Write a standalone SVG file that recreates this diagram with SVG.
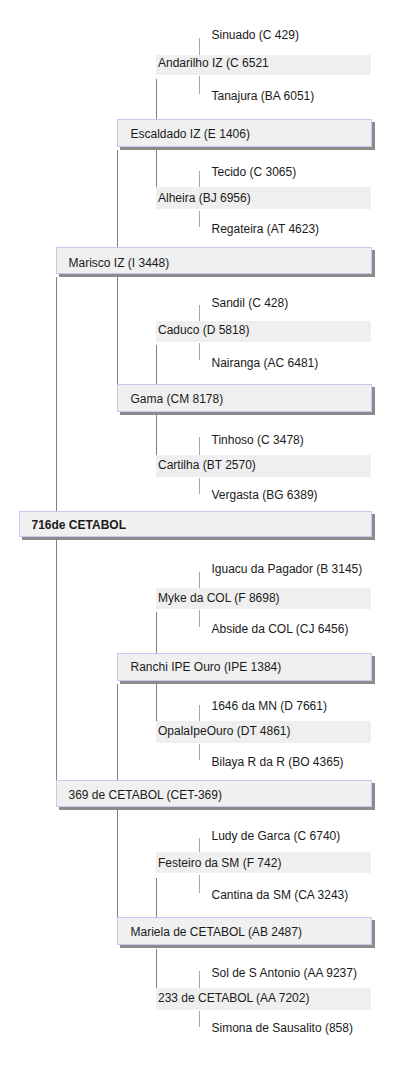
<svg xmlns="http://www.w3.org/2000/svg" width="400" height="1069" viewBox="0 0 400 1069">
<style>
text{font-family:"Liberation Sans",Arial,sans-serif;font-size:12px;fill:#1a1a1a}
.b{fill:#f0f0f0;stroke:#c8c8f2;stroke-width:1}
.s{fill:#8c8c8c}
.l3{fill:#efefef}
.c{stroke:#7f7f7f;stroke-width:1;fill:none}
.c4{stroke:#a6a6a6;stroke-width:1;fill:none}
.root{font-weight:bold}
</style>
<rect width="400" height="1069" fill="#ffffff"/>
<g id="connectors">
<path class="c" d="M156.5 79V119M156.5 150V187M156.5 345V384M156.5 415V455M156.5 612V653M156.5 684V721M156.5 878V917M156.5 949V988"/>
<path class="c" d="M117.5 150V247M117.5 277V384M117.5 684V780M117.5 809V917"/>
<path class="c" d="M56.5 277V511M56.5 540V780"/>
<path class="c4" d="M199.5 38V55M199.5 76V94M199.5 171V187M199.5 211V227M199.5 305V321M199.5 343V360M199.5 437V455M199.5 478V494M199.5 572V588M199.5 610V627M199.5 705V721M199.5 744V760M199.5 838V852M199.5 875V893M199.5 971V988M199.5 1011V1027"/>
</g>
<g id="n-root"><rect class="s" x="22" y="514" width="353" height="26"/><rect class="b" x="19.5" y="511.5" width="352" height="25"/><text class="root" x="31.5" y="528.5">716de CETABOL</text></g>
<g id="n-marisco"><rect class="s" x="59" y="250" width="316" height="27"/><rect class="b" x="56.5" y="247.5" width="315" height="26"/><text x="68.5" y="266.5">Marisco IZ (I 3448)</text></g>
<g id="n-369"><rect class="s" x="59" y="783" width="316" height="27"/><rect class="b" x="56.5" y="780.5" width="315" height="26"/><text x="68.5" y="799">369 de CETABOL (CET-369)</text></g>
<g id="n-escaldado"><rect class="s" x="120" y="122" width="255" height="28"/><rect class="b" x="117.5" y="119.5" width="254" height="27"/><text x="130.5" y="138">Escaldado IZ (E 1406)</text></g>
<g id="n-gama"><rect class="s" x="120" y="387" width="255" height="28"/><rect class="b" x="117.5" y="384.5" width="254" height="27"/><text x="130.5" y="403">Gama (CM 8178)</text></g>
<g id="n-ranchi"><rect class="s" x="120" y="656" width="255" height="28"/><rect class="b" x="117.5" y="653.5" width="254" height="27"/><text x="130.5" y="671">Ranchi IPE Ouro (IPE 1384)</text></g>
<g id="n-mariela"><rect class="s" x="120" y="920" width="255" height="28"/><rect class="b" x="117.5" y="917.5" width="254" height="27"/><text x="130.5" y="936">Mariela de CETABOL (AB 2487)</text></g>
<g id="n-andarilho"><rect class="l3" x="156" y="55" width="215" height="20"/><text x="158" y="67">Andarilho IZ (C 6521</text></g>
<g id="n-alheira"><rect class="l3" x="156" y="187" width="215" height="22"/><text x="158" y="201.5">Alheira (BJ 6956)</text></g>
<g id="n-caduco"><rect class="l3" x="156" y="321" width="215" height="21"/><text x="158" y="334">Caduco (D 5818)</text></g>
<g id="n-cartilha"><rect class="l3" x="156" y="455" width="215" height="22"/><text x="158" y="468.5">Cartilha (BT 2570)</text></g>
<g id="n-myke"><rect class="l3" x="156" y="588" width="215" height="21"/><text x="158" y="601.5">Myke da COL (F 8698)</text></g>
<g id="n-opala"><rect class="l3" x="156" y="721" width="215" height="22"/><text x="158" y="735">OpalaIpeOuro (DT 4861)</text></g>
<g id="n-festeiro"><rect class="l3" x="156" y="852" width="215" height="21"/><text x="158" y="867">Festeiro da SM (F 742)</text></g>
<g id="n-233"><rect class="l3" x="156" y="988" width="215" height="22"/><text x="158" y="1001.5">233 de CETABOL (AA 7202)</text></g>
<g id="n-sinuado"><text x="211.5" y="39">Sinuado (C 429)</text></g>
<g id="n-tanajura"><text x="211.5" y="100">Tanajura (BA 6051)</text></g>
<g id="n-tecido"><text x="211.5" y="176">Tecido (C 3065)</text></g>
<g id="n-regateira"><text x="211.5" y="233">Regateira (AT 4623)</text></g>
<g id="n-sandil"><text x="211.5" y="307">Sandil (C 428)</text></g>
<g id="n-nairanga"><text x="211.5" y="366.5">Nairanga (AC 6481)</text></g>
<g id="n-tinhoso"><text x="211.5" y="444">Tinhoso (C 3478)</text></g>
<g id="n-vergasta"><text x="211.5" y="499">Vergasta (BG 6389)</text></g>
<g id="n-iguacu"><text x="211.5" y="573">Iguacu da Pagador (B 3145)</text></g>
<g id="n-abside"><text x="211.5" y="633">Abside da COL (CJ 6456)</text></g>
<g id="n-1646"><text x="211.5" y="710">1646 da MN (D 7661)</text></g>
<g id="n-bilaya"><text x="211.5" y="766">Bilaya R da R (BO 4365)</text></g>
<g id="n-ludy"><text x="211.5" y="840">Ludy de Garca (C 6740)</text></g>
<g id="n-cantina"><text x="211.5" y="899">Cantina da SM (CA 3243)</text></g>
<g id="n-sol"><text x="211.5" y="977">Sol de S Antonio (AA 9237)</text></g>
<g id="n-simona"><text x="211.5" y="1032">Simona de Sausalito (858)</text></g>
</svg>
